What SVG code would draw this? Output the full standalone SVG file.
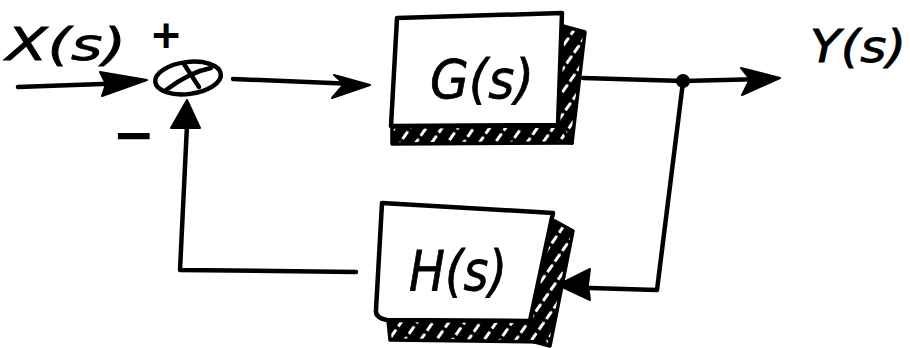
<svg xmlns="http://www.w3.org/2000/svg" width="910" height="348" viewBox="0 0 910 348">
  <defs>
    <!-- diagonal white hatching on black for the box shadows -->
    <pattern id="hatch" patternUnits="userSpaceOnUse" width="13" height="13" patternTransform="rotate(-55)">
      <rect width="13" height="13" fill="#000"/>
      <line x1="1" y1="6.5" x2="8" y2="6.5" stroke="#fff" stroke-width="3" stroke-linecap="round"/>
    </pattern>
    <style>
      .ln { fill: none; stroke: #000; stroke-width: 4.5; stroke-linecap: round; stroke-linejoin: round; }
      .box { fill: #fff; stroke: #000; stroke-width: 4.5; stroke-linejoin: round; }
      .shadow { fill: url(#hatch); stroke: #000; stroke-width: 3.5; stroke-linejoin: round; }
      .head { fill: #000; stroke: #000; stroke-width: 2; stroke-linejoin: round; }
      .lbl { font-family: "DejaVu Sans", "Liberation Sans", sans-serif; font-style: italic; fill: #000; stroke: #000; stroke-width: 0.8; }
      .sign { font-family: "DejaVu Sans", "Liberation Sans", sans-serif; fill: #000; stroke: #000; stroke-width: 2; }
    </style>
  </defs>
  <rect width="910" height="348" fill="#fff"/>

  <!-- signal labels -->
  <g id="input-label">
    <text class="lbl" x="6" y="60" font-size="44" textLength="120" lengthAdjust="spacingAndGlyphs">X(s)</text>
    <text class="sign" x="151" y="47" font-size="36">+</text>
    <text class="sign" x="114" y="152" font-size="50" textLength="40" lengthAdjust="spacingAndGlyphs">−</text>
  </g>
  <g id="output-label">
    <text class="lbl" x="810" y="62" font-size="44" textLength="96" lengthAdjust="spacingAndGlyphs">Y(s)</text>
  </g>

  <!-- summing junction -->
  <g id="sum">
    <ellipse cx="188" cy="78" rx="33" ry="16" transform="rotate(-7 188 78)" fill="#fff" stroke="#000" stroke-width="4.5"/>
    <path class="ln" d="M166,90 Q190,72 211,68" stroke-width="3.5"/>
    <path class="ln" d="M184,64 L199,87" stroke-width="3.5"/>
  </g>

  <!-- forward block G(s) -->
  <g id="G">
    <path class="shadow" d="M563,26 L585,32 L572,143 L557,141 Z"/>
    <path class="shadow" d="M392,127 L560,126 L572,143 L392,144 Z"/>
    <path class="box" d="M397,18 L562,13 L558,125 L391,126 Z"/>
    <text class="lbl" x="482" y="98" font-size="54" text-anchor="middle" textLength="104" lengthAdjust="spacingAndGlyphs">G(s)</text>
  </g>

  <!-- feedback block H(s) -->
  <g id="H">
    <path class="shadow" d="M555,221 L573,231 L550,346 L520,338 Z"/>
    <path class="shadow" d="M388,320 L530,321 L545,342 L390,340 Z"/>
    <path class="box" d="M382,203 L553,213 L530,321 L387,320 Q375,318 376,310 Z"/>
    <text class="lbl" x="458" y="290" font-size="56" text-anchor="middle" textLength="98" lengthAdjust="spacingAndGlyphs">H(s)</text>
  </g>

  <!-- connectors -->
  <g id="connectors">
    <!-- X(s) into the junction -->
    <path class="ln" d="M18,87 L130,83"/>
    <path class="head" d="M147,80 L100,72 L106,84 L102,96 Z"/>
    <!-- junction to G -->
    <path class="ln" d="M233,79 L355,84"/>
    <path class="head" d="M370,85 L334,75 L344,84 L332,98 Z"/>
    <!-- G to the output -->
    <path class="ln" d="M583,78 L683,81 L765,79"/>
    <path class="head" d="M780,78 L741,68 L750,79 L742,95 Z"/>
    <circle cx="683" cy="81" r="7" fill="#000"/>
    <!-- pick-off down and back into H -->
    <path class="ln" d="M683,82 L657,290 L590,288"/>
    <path class="head" d="M558,285 L590,269 L588,285 L590,300 Z"/>
    <!-- H back to the junction -->
    <path class="ln" d="M356,272 L180,270 L187,125"/>
    <path class="head" d="M187,100 L171,128 L200,128 Z"/>
  </g>
</svg>
